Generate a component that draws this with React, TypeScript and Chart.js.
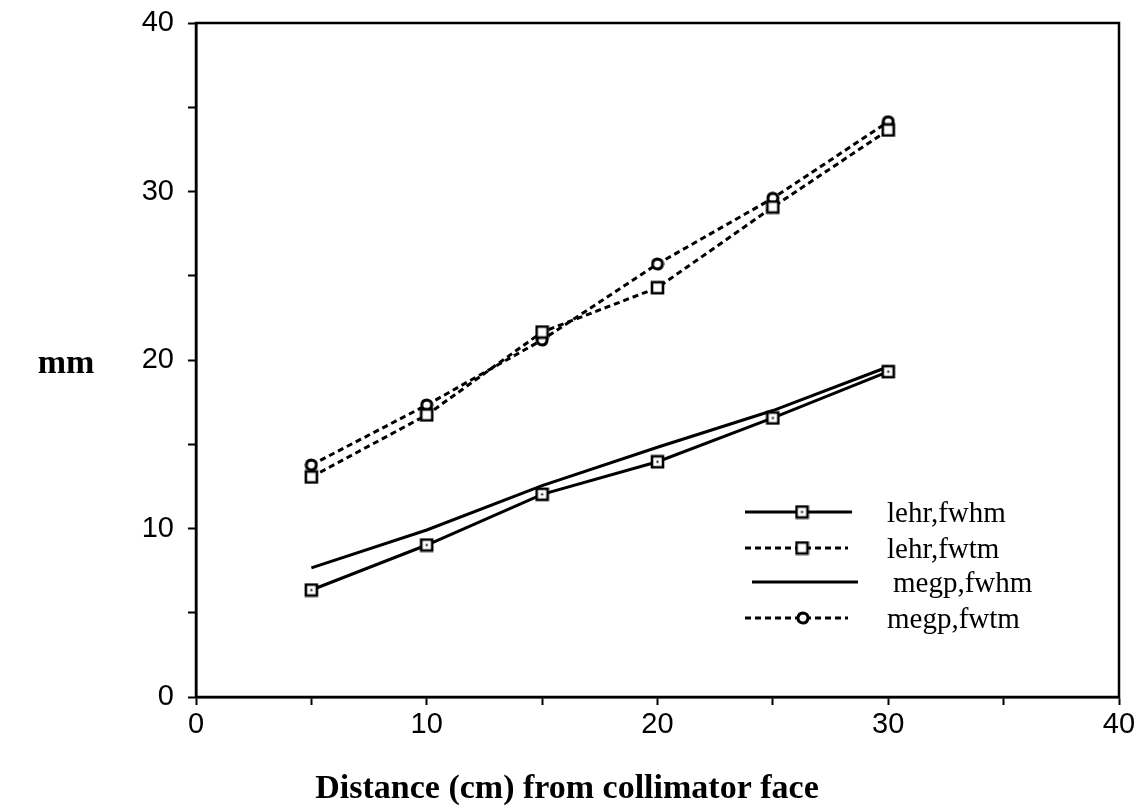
import React, { useEffect, useRef } from 'react';
import { Chart, registerables } from 'chart.js';

Chart.register(...registerables);

const distances = [5, 10, 15, 20, 25, 30];
const lehrFwhm = [6.35, 9.02, 12.03, 13.96, 16.56, 19.31];
const lehrFwtm = [13.06, 16.74, 21.66, 24.29, 29.08, 33.65];
const megpFwhm = [7.66, 9.91, 12.54, 14.82, 17.0, 19.6];
const megpFwtm = [13.77, 17.33, 21.19, 25.7, 29.6, 34.14];
const seriesLabels = ['lehr,fwhm', 'lehr,fwtm', 'megp,fwhm', 'megp,fwtm'];
const xTitle = 'Distance (cm) from collimator face';
const yTitle = 'mm';

const W = 1145;
const H = 809;

function makeSquare(dot: boolean): HTMLCanvasElement {
  const c = document.createElement('canvas');
  c.width = 15;
  c.height = 15;
  const g = c.getContext('2d')!;
  g.fillStyle = '#fff';
  g.fillRect(1, 1, 13, 13);
  g.strokeStyle = '#000';
  g.lineWidth = 2.6;
  g.strokeRect(2, 2, 11, 11);
  if (dot) {
    g.fillStyle = '#000';
    g.fillRect(6.5, 6.5, 2, 2);
  }
  return c;
}

function makeDiamond(): HTMLCanvasElement {
  const c = document.createElement('canvas');
  c.width = 14;
  c.height = 14;
  const g = c.getContext('2d')!;
  g.beginPath();
  g.moveTo(7, 2);
  g.quadraticCurveTo(12, 2.5, 12, 7);
  g.quadraticCurveTo(11.5, 12, 7, 12);
  g.quadraticCurveTo(2, 11.5, 2, 7);
  g.quadraticCurveTo(2.5, 2, 7, 2);
  g.closePath();
  g.fillStyle = '#fff';
  g.fill();
  g.strokeStyle = '#000';
  g.lineWidth = 3;
  g.stroke();
  return c;
}

export default function App() {
  const ref = useRef<HTMLCanvasElement | null>(null);

  useEffect(() => {
    const canvas = ref.current;
    if (!canvas) return;
    const sqDot = makeSquare(true);
    const sq = makeSquare(false);
    const dia = makeDiamond();

    const toPts = (ys: number[]) => distances.map((x, i) => ({ x, y: ys[i] }));
    const dash = [6, 4];

    const framePlugin = {
      id: 'framePlugin',
      afterDraw(chart: any) {
        const { ctx, chartArea } = chart;
        ctx.save();
        ctx.strokeStyle = '#000';
        ctx.lineWidth = 2.5;
        ctx.strokeRect(chartArea.left, chartArea.top, chartArea.right - chartArea.left, chartArea.bottom - chartArea.top);

        // titles
        ctx.fillStyle = '#000';
        ctx.font = 'bold 34px "Liberation Serif", "Times New Roman", serif';
        ctx.textAlign = 'center';
        ctx.textBaseline = 'middle';
        ctx.fillText(xTitle, 567, 789);
        ctx.fillText(yTitle, 66, 364);

        // legend
        const rows = [
          { y: 512, x0: 745, x1: 852, mx: 802, dash: [] as number[], img: sqDot, tx: 887 },
          { y: 548, x0: 745, x1: 848, mx: 802, dash, img: sq, tx: 887 },
          { y: 582, x0: 752, x1: 858, mx: 0, dash: [] as number[], img: null, tx: 893 },
          { y: 618, x0: 745, x1: 848, mx: 803, dash, img: dia, tx: 887 },
        ];
        ctx.font = '29px "Liberation Serif", "Times New Roman", serif';
        ctx.textAlign = 'left';
        rows.forEach((r, i) => {
          ctx.beginPath();
          ctx.setLineDash(r.dash);
          ctx.lineWidth = 3;
          ctx.moveTo(r.x0, r.y);
          ctx.lineTo(r.x1, r.y);
          ctx.stroke();
          ctx.setLineDash([]);
          if (r.img) {
            ctx.drawImage(r.img, r.mx - r.img.width / 2, r.y - r.img.height / 2);
          }
          ctx.fillText(seriesLabels[i], r.tx, r.y + 2);
        });
        ctx.restore();
      },
    };

    const tickCb = (v: any) => (Number(v) % 10 === 0 ? String(v) : '');

    const chart = new Chart(canvas, {
      type: 'line',
      data: {
        datasets: [
          {
            label: seriesLabels[0],
            data: toPts(lehrFwhm),
            borderColor: '#000',
            borderWidth: 3,
            pointStyle: sqDot as any,
            pointRadius: 7,
            tension: 0,
          },
          {
            label: seriesLabels[1],
            data: toPts(lehrFwtm),
            borderColor: '#000',
            borderWidth: 3,
            borderDash: dash,
            pointStyle: sq as any,
            pointRadius: 7,
            tension: 0,
          },
          {
            label: seriesLabels[2],
            data: toPts(megpFwhm),
            borderColor: '#000',
            borderWidth: 3,
            pointRadius: 0,
            tension: 0,
          },
          {
            label: seriesLabels[3],
            data: toPts(megpFwtm),
            borderColor: '#000',
            borderWidth: 3,
            borderDash: dash,
            pointStyle: dia as any,
            pointRadius: 6,
            tension: 0,
          },
        ],
      },
      options: {
        animation: false,
        responsive: false,
        maintainAspectRatio: false,
        events: [],
        layout: { padding: { left: 0, top: 23, right: 26, bottom: 0 } },
        plugins: { legend: { display: false }, tooltip: { enabled: false } },
        scales: {
          x: {
            type: 'linear',
            min: 0,
            max: 40,
            afterFit: (s: any) => { s.height = 112; s.paddingLeft = 0; s.paddingRight = 0; },
            ticks: {
              stepSize: 5,
              autoSkip: false,
              maxRotation: 0,
              callback: tickCb,
              color: '#000',
              padding: 3,
              font: { family: '"Liberation Sans", Arial, sans-serif', size: 29 },
            },
            grid: { drawOnChartArea: false, drawTicks: true, tickLength: 8, tickColor: '#000', tickWidth: 2 },
            border: { display: true, color: '#000', width: 2.5 },
          },
          y: {
            type: 'linear',
            min: 0,
            max: 40,
            afterFit: (s: any) => { s.width = 196; s.paddingTop = 0; s.paddingBottom = 0; },
            ticks: {
              stepSize: 5,
              autoSkip: false,
              callback: tickCb,
              color: '#000',
              padding: 14,
              font: { family: '"Liberation Sans", Arial, sans-serif', size: 29 },
            },
            grid: { drawOnChartArea: false, drawTicks: true, tickLength: 8, tickColor: '#000', tickWidth: 2 },
            border: { display: true, color: '#000', width: 2.5 },
          },
        },
      },
      plugins: [framePlugin],
    });

    return () => chart.destroy();
  }, []);

  return (
    <div style={{ position: 'fixed', left: 0, top: 0, width: W, height: H, background: '#fff' }}>
      <canvas ref={ref} width={W} height={H} style={{ width: W, height: H, display: 'block' }} />
    </div>
  );
}
